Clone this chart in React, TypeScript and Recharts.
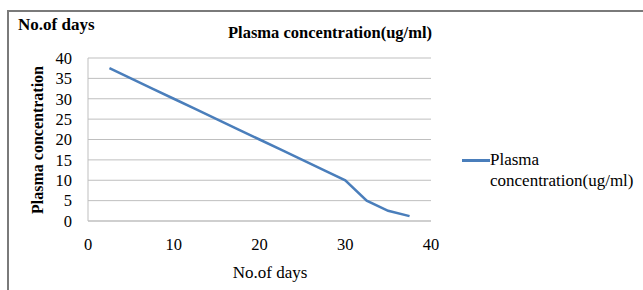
import React from 'react';
import { LineChart, Line, XAxis, YAxis, CartesianGrid, Legend, Customized } from 'recharts';

const days = [2.5, 5, 7.5, 10, 12.5, 15, 17.5, 20, 22.5, 25, 27.5, 30, 32.5, 35, 37.5];
const plasma = [37.5, 35, 32.5, 30, 27.5, 25, 22.5, 20, 17.5, 15, 12.5, 10, 5, 2.5, 1.2];
const xTicks = [0, 10, 20, 30, 40];
const yTicks = [0, 5, 10, 15, 20, 25, 30, 35, 40];

const seriesName = 'Plasma concentration(ug/ml)';
const data = days.map((d, i) => ({ day: d, value: plasma[i] }));

const FONT = "'Liberation Serif', 'Times New Roman', Times, serif";
const BLUE = '#4A7EBB';

const renderLegend = () => (
  <div style={{ display: 'flex', alignItems: 'flex-start', fontFamily: FONT, fontSize: 17, color: '#000' }}>
    <div style={{ width: 28, height: 3, background: BLUE, marginTop: 10 }} />
    <div style={{ lineHeight: '21px' }}>
      <div>Plasma</div>
      <div>concentration(ug/ml)</div>
    </div>
  </div>
);

const Titles = () => (
  <g style={{ fontFamily: FONT }}>
    <text x={18} y={30} style={{ fontFamily: FONT }} fontWeight="bold" fontSize={17} fill="#000">No.of days</text>
    <text x={330} y={38} textAnchor="middle" style={{ fontFamily: FONT }} fontWeight="bold" fontSize={16.5} fill="#000">Plasma concentration(ug/ml)</text>
    <text x={37} y={140} transform="rotate(-90, 37, 140)" textAnchor="middle" dominantBaseline="central" style={{ fontFamily: FONT }} fontWeight="bold" fontSize={16} fill="#000">Plasma concentration</text>
    <text x={270} y={278} textAnchor="middle" style={{ fontFamily: FONT }} fontSize={17} fill="#000">No.of days</text>
  </g>
);

export default function App() {
  return (
    <div style={{ position: 'absolute', left: 0, top: 0, width: 643, height: 290, background: '#fff', overflow: 'hidden', fontFamily: FONT }}>
      <div style={{ position: 'absolute', left: 7, top: 10, width: 660, height: 300, borderTop: '2px solid #7a7a7a', borderLeft: '2px solid #7a7a7a' }} />
      <div style={{ position: 'absolute', left: 0, top: 0 }}>
        <LineChart width={643} height={290} data={data} margin={{ top: 58, right: 212, bottom: 39, left: 28 }} style={{ fontFamily: FONT }}>
          <CartesianGrid vertical={false} stroke="#BFBFBF" strokeWidth={1} />
          <XAxis
            dataKey="day"
            type="number"
            domain={[0, 40]}
            ticks={xTicks}
            interval={0}
            height={30}
            tickSize={0}
            tickMargin={17}
            tickLine={false}
            axisLine={{ stroke: '#BFBFBF' }}
            tick={{ fontFamily: FONT, fontSize: 16.5, fill: '#000' }}
          />
          <YAxis
            type="number"
            domain={[0, 40]}
            ticks={yTicks}
            interval={0}
            width={60}
            tickSize={0}
            tickMargin={16}
            tickLine={false}
            axisLine={{ stroke: '#BFBFBF' }}
            tick={{ fontFamily: FONT, fontSize: 16.5, fill: '#000' }}
          />
          <Line
            type="linear"
            dataKey="value"
            name={seriesName}
            stroke={BLUE}
            strokeWidth={2.5}
            dot={false}
            isAnimationActive={false}
          />
          <Legend
            layout="vertical"
            align="center"
            verticalAlign="middle"
            content={renderLegend}
            wrapperStyle={{ left: 462, top: 149, width: 180, height: 44 }}
          />
          <Customized component={Titles} />
        </LineChart>
      </div>
    </div>
  );
}
